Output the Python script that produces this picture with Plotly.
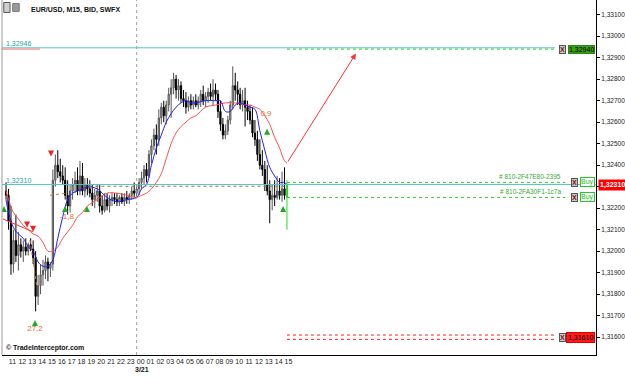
import plotly.graph_objects as go

# ---------------- data (time = hours since 3/20 00:00; 3/21 00:00 = 24) ----------------
BAR_START = 10.75
BAR_STEP = 0.25

OPEN = [1.3228, 1.3226, 1.3214, 1.3194, 1.3205, 1.3198, 1.3203, 1.3200, 1.3202, 1.3200,
        1.3203, 1.3201, 1.3197, 1.3179, 1.3184, 1.3189, 1.3191, 1.3195, 1.3192, 1.3194,
        1.3233, 1.3240, 1.3237, 1.3235, 1.3233, 1.3226, 1.3221, 1.3228, 1.3231, 1.3233,
        1.3228, 1.3235, 1.3228, 1.3231, 1.3229, 1.3227, 1.3224, 1.3226, 1.3228, 1.3221,
        1.3219, 1.3224, 1.3221, 1.3224, 1.3225, 1.3224, 1.3223, 1.3225, 1.3223, 1.3225,
        1.3224, 1.3226, 1.3228, 1.3227, 1.3229, 1.3232, 1.3234, 1.3238, 1.3235, 1.3245,
        1.3249, 1.3254, 1.3252, 1.3262, 1.3267, 1.3263, 1.3268, 1.3273, 1.3276, 1.3280,
        1.3275, 1.3277, 1.3271, 1.3270, 1.3267, 1.3270, 1.3268, 1.3270, 1.3268, 1.3270,
        1.3273, 1.3270, 1.3272, 1.3274, 1.3272, 1.3275, 1.3273, 1.3265, 1.3259, 1.3254,
        1.3256, 1.3261, 1.3268, 1.3277, 1.3275, 1.3273, 1.3268, 1.3270, 1.3267, 1.3265,
        1.3261, 1.3255, 1.3252, 1.3245, 1.3240, 1.3238, 1.3231, 1.3228, 1.3224, 1.3226,
        1.3225, 1.3228, 1.3226, 1.3229]
HIGH = [1.3232, 1.3229, 1.3221, 1.3210, 1.3217, 1.3209, 1.3206, 1.3205, 1.3206, 1.3204,
        1.3206, 1.3205, 1.3200, 1.3189, 1.3194, 1.3196, 1.3198, 1.3197, 1.3195, 1.3238,
        1.3245, 1.3247, 1.3243, 1.3240, 1.3239, 1.3233, 1.3231, 1.3234, 1.3237, 1.3239,
        1.3242, 1.3241, 1.3234, 1.3234, 1.3233, 1.3231, 1.3229, 1.3231, 1.3231, 1.3226,
        1.3227, 1.3227, 1.3226, 1.3227, 1.3227, 1.3227, 1.3226, 1.3227, 1.3227, 1.3228,
        1.3227, 1.3230, 1.3232, 1.3231, 1.3234, 1.3237, 1.3240, 1.3241, 1.3247, 1.3252,
        1.3257, 1.3259, 1.3266, 1.3269, 1.3270, 1.3270, 1.3276, 1.3280, 1.3283, 1.3282,
        1.3280, 1.3279, 1.3275, 1.3274, 1.3272, 1.3273, 1.3272, 1.3273, 1.3272, 1.3275,
        1.3277, 1.3274, 1.3276, 1.3278, 1.3280, 1.3278, 1.3275, 1.3270, 1.3262, 1.3259,
        1.3263, 1.3270, 1.3286, 1.3283, 1.3279, 1.3276, 1.3275, 1.3276, 1.3270, 1.3268,
        1.3267, 1.3261, 1.3256, 1.3252, 1.3247, 1.3242, 1.3240, 1.3233, 1.3231, 1.3233,
        1.3235, 1.3234, 1.3237, 1.3239]
LOW = [1.3224, 1.3210, 1.3189, 1.3190, 1.3195, 1.3191, 1.3197, 1.3195, 1.3198, 1.3198,
       1.3200, 1.3194, 1.3172, 1.3175, 1.3180, 1.3184, 1.3187, 1.3186, 1.3188, 1.3191,
       1.3230, 1.3234, 1.3232, 1.3231, 1.3224, 1.3217, 1.3218, 1.3224, 1.3227, 1.3226,
       1.3226, 1.3226, 1.3225, 1.3226, 1.3225, 1.3221, 1.3220, 1.3223, 1.3218, 1.3217,
       1.3218, 1.3219, 1.3218, 1.3221, 1.3222, 1.3221, 1.3221, 1.3222, 1.3221, 1.3222,
       1.3222, 1.3224, 1.3225, 1.3225, 1.3226, 1.3229, 1.3231, 1.3232, 1.3234, 1.3241,
       1.3247, 1.3245, 1.3249, 1.3259, 1.3260, 1.3259, 1.3265, 1.3262, 1.3273, 1.3271,
       1.3270, 1.3269, 1.3267, 1.3264, 1.3265, 1.3266, 1.3266, 1.3267, 1.3266, 1.3267,
       1.3268, 1.3267, 1.3269, 1.3270, 1.3268, 1.3270, 1.3262, 1.3256, 1.3252, 1.3252,
       1.3254, 1.3259, 1.3266, 1.3270, 1.3268, 1.3266, 1.3265, 1.3258, 1.3261, 1.3259,
       1.3253, 1.3249, 1.3242, 1.3238, 1.3235, 1.3228, 1.3226, 1.3213, 1.3219, 1.3221,
       1.3224, 1.3224, 1.3223, 1.3224]
CLOSE = [1.3226, 1.3214, 1.3194, 1.3205, 1.3198, 1.3203, 1.3200, 1.3202, 1.3200, 1.3203,
         1.3201, 1.3197, 1.3179, 1.3184, 1.3189, 1.3191, 1.3195, 1.3192, 1.3194, 1.3233,
         1.3240, 1.3237, 1.3235, 1.3233, 1.3226, 1.3221, 1.3228, 1.3231, 1.3233, 1.3228,
         1.3235, 1.3228, 1.3231, 1.3229, 1.3227, 1.3224, 1.3226, 1.3228, 1.3221, 1.3219,
         1.3224, 1.3221, 1.3224, 1.3225, 1.3224, 1.3223, 1.3225, 1.3223, 1.3225, 1.3224,
         1.3226, 1.3228, 1.3227, 1.3229, 1.3232, 1.3234, 1.3238, 1.3235, 1.3245, 1.3249,
         1.3254, 1.3252, 1.3262, 1.3267, 1.3263, 1.3268, 1.3273, 1.3276, 1.3280, 1.3275,
         1.3277, 1.3271, 1.3270, 1.3267, 1.3270, 1.3268, 1.3270, 1.3268, 1.3270, 1.3273,
         1.3270, 1.3272, 1.3274, 1.3272, 1.3275, 1.3273, 1.3265, 1.3259, 1.3254, 1.3256,
         1.3261, 1.3268, 1.3277, 1.3275, 1.3273, 1.3268, 1.3270, 1.3267, 1.3265, 1.3261,
         1.3255, 1.3252, 1.3245, 1.3240, 1.3238, 1.3231, 1.3228, 1.3224, 1.3226, 1.3225,
         1.3228, 1.3226, 1.3229, 1.3226]

LAST_TIME = 39.25
LAST_OPEN, LAST_HIGH, LAST_LOW, LAST_CLOSE = 1.3225, 1.3233, 1.3210, 1.3231

FAST_T = [10.75, 11, 11.5, 12, 12.5, 13, 13.5, 14, 14.5, 15, 15.5, 16, 16.5, 17, 17.5, 18, 18.5,
          19, 20, 21, 22, 23, 24, 24.5, 25, 25.5, 26, 26.5, 27, 27.5, 28, 28.5, 29, 29.5, 30,
          31, 32, 32.5, 33, 33.5, 34, 34.5, 35, 35.5, 36, 36.5, 37, 37.5, 38, 38.5, 39, 39.25]
FAST_MA = [1.3224, 1.3218, 1.3211, 1.3208, 1.3206, 1.3202, 1.3200, 1.3195, 1.3193, 1.3193,
           1.3196, 1.3206, 1.3216, 1.3224, 1.3227, 1.3228, 1.3229, 1.3230, 1.3229, 1.3225,
           1.3223, 1.3224, 1.3225, 1.3229, 1.3231, 1.3240, 1.3248, 1.3254, 1.3260, 1.3264,
           1.3267, 1.3269, 1.3270, 1.3269, 1.3269, 1.3270, 1.3270, 1.3270, 1.3265, 1.3265,
           1.3268, 1.3269, 1.3268, 1.3267, 1.3266, 1.3256, 1.3247, 1.3239, 1.3235, 1.3232,
           1.3232, 1.3231]
SLOW_T = [10.75, 11, 11.5, 12, 12.5, 13, 13.5, 14, 14.5, 15, 15.5, 16, 16.5, 17, 17.5, 18, 18.5,
          19, 20, 21, 22, 23, 24, 24.5, 25, 25.5, 26, 26.5, 27, 27.5, 28, 28.5, 29, 29.5, 30,
          31, 32, 33, 34, 35, 35.5, 36, 36.5, 37, 37.5, 38, 38.5, 39, 39.25]
SLOW_MA = [1.3228, 1.3224, 1.3218, 1.3215, 1.3212, 1.3210, 1.3208, 1.3207, 1.3204, 1.3200,
           1.3200, 1.3202, 1.3206, 1.3209, 1.3212, 1.3216, 1.3218, 1.3221, 1.3224, 1.3227,
           1.3227, 1.3226, 1.3225, 1.3226, 1.3227, 1.3229, 1.3232, 1.3236, 1.3243, 1.3250,
           1.3255, 1.3258, 1.3260, 1.3262, 1.3263, 1.3267, 1.3268, 1.3269, 1.3269, 1.3268,
           1.3268, 1.3267, 1.3266, 1.3263, 1.3259, 1.3253, 1.3248, 1.3242, 1.3241]

FORECAST_T = [39.25, 46.25]
FORECAST_P = [1.3241, 1.3292]

TARGET_LEVEL = 1.32946
TARGET_ORDER = 1.32940
ENTRY_LEVEL = 1.32310
ORDER_LEVELS = [1.3232, 1.3225]
ORDER_IDS = ["# 810-2F47E80-2395", "# 810-2FA30F1-1c7a"]
STOP_LEVELS = [1.31610, 1.31590]

BUY_T = [10.54, 16.73, 18.96, 13.69, 37.23, 38.86]
BUY_P = [1.3221, 1.3221, 1.3221, 1.3168, 1.3257, 1.3221]
SELL_T = [12.88, 13.49, 15.31]
SELL_P = [1.3211, 1.3209, 1.3244]
PNL_T = [13.69, 16.93, 37.12]
PNL_P = [1.3164, 1.3216, 1.3264]
PNL_TEXT = ["27,2", "-1,8", "0,9"]

HOUR_TICKS = list(range(11, 40))
HOUR_LABELS = ["%02d" % (h % 24) for h in HOUR_TICKS]
PRICE_TICKS = [1.316, 1.317, 1.318, 1.319, 1.320, 1.321, 1.322, 1.323, 1.324, 1.325,
               1.326, 1.327, 1.328, 1.329, 1.330, 1.331]
# 1,32300 is hidden under the current-price box
PRICE_LABELS = ["" if abs(p - 1.323) < 1e-9 else ("%.5f" % p).replace(".", ",") for p in PRICE_TICKS]

X_RANGE = [10.34, 70.60]
Y_RANGE = [1.315172, 1.331684]

FONT = "Liberation Sans"
TEAL = "#56c3c3"
GREEN = "#33cc33"
ORANGE = "#d9742a"

bar_t = [BAR_START + BAR_STEP * i for i in range(len(OPEN))]

fig = go.Figure()

fig.add_trace(go.Candlestick(
    x=bar_t, open=OPEN, high=HIGH, low=LOW, close=CLOSE,
    increasing=dict(line=dict(color="#555555", width=1), fillcolor="#b8b8b8"),
    decreasing=dict(line=dict(color="#000000", width=1), fillcolor="#000000"),
    whiskerwidth=0, showlegend=False, hoverinfo="skip"))
fig.add_trace(go.Candlestick(
    x=[LAST_TIME], open=[LAST_OPEN], high=[LAST_HIGH], low=[LAST_LOW], close=[LAST_CLOSE],
    increasing=dict(line=dict(color="#22dd22", width=1), fillcolor="#11aa11"),
    decreasing=dict(line=dict(color="#22dd22", width=1), fillcolor="#11aa11"),
    whiskerwidth=0, showlegend=False, hoverinfo="skip"))

fig.add_trace(go.Scatter(x=SLOW_T, y=SLOW_MA, mode="lines", line=dict(color="#ff5050", width=1, shape="spline"),
                         showlegend=False, hoverinfo="skip"))
fig.add_trace(go.Scatter(x=FAST_T, y=FAST_MA, mode="lines", line=dict(color="#2020ff", width=1, shape="spline"),
                         showlegend=False, hoverinfo="skip"))

# trade connection lines
fig.add_trace(go.Scatter(x=[10.44, 13.49], y=[1.3215, 1.3209], mode="lines",
                         line=dict(color="#ff3030", width=1), showlegend=False, hoverinfo="skip"))
fig.add_trace(go.Scatter(x=[13.18, 13.89], y=[1.3205, 1.3183], mode="lines",
                         line=dict(color=ORANGE, width=1, dash="dot"), showlegend=False, hoverinfo="skip"))
fig.add_trace(go.Scatter(x=[15.21, 16.9], y=[1.3226, 1.3227], mode="lines",
                         line=dict(color=ORANGE, width=1, dash="dot"), showlegend=False, hoverinfo="skip"))

fig.add_trace(go.Scatter(x=BUY_T, y=BUY_P, mode="markers",
                         marker=dict(symbol="arrow-up", size=6, color="#22aa22"),
                         showlegend=False, hoverinfo="skip"))
fig.add_trace(go.Scatter(x=SELL_T, y=SELL_P, mode="markers",
                         marker=dict(symbol="arrow-down", size=6, color="#ee2020"),
                         showlegend=False, hoverinfo="skip"))
fig.add_trace(go.Scatter(x=PNL_T, y=PNL_P, mode="text", text=PNL_TEXT,
                         textfont=dict(family=FONT, size=8, color=ORANGE),
                         showlegend=False, hoverinfo="skip"))

shapes = []
# frame pieces
shapes.append(dict(type="line", xref="paper", yref="paper", x0=0, x1=0, y0=0, y1=1,
                   line=dict(color="#9a9a9a", width=1)))
shapes.append(dict(type="line", xref="x", yref="paper", x0=24, x1=24, y0=0, y1=1,
                   line=dict(color="#a0a0a0", width=1, dash="dot")))
# levels
shapes.append(dict(type="line", xref="paper", yref="y", x0=0, x1=0.931, y0=TARGET_LEVEL, y1=TARGET_LEVEL,
                   line=dict(color=TEAL, width=1)))
shapes.append(dict(type="line", xref="x", yref="y", x0=LAST_TIME, x1=66.44, y0=TARGET_ORDER, y1=TARGET_ORDER,
                   line=dict(color=GREEN, width=1, dash="dot")))
shapes.append(dict(type="line", xref="paper", yref="y", x0=0, x1=0.064, y0=TARGET_ORDER, y1=TARGET_ORDER,
                   line=dict(color="#ff7070", width=1)))
shapes.append(dict(type="line", xref="paper", yref="y", x0=0, x1=1, y0=ENTRY_LEVEL, y1=ENTRY_LEVEL,
                   line=dict(color=TEAL, width=1)))
shapes.append(dict(type="line", xref="x", yref="y", x0=18.6, x1=LAST_TIME, y0=1.32302, y1=1.32302,
                   line=dict(color="#b07040", width=1, dash="dot")))
for lv in ORDER_LEVELS:
    shapes.append(dict(type="line", xref="x", yref="y", x0=LAST_TIME, x1=67.5, y0=lv, y1=lv,
                       line=dict(color=GREEN, width=1, dash="dot")))
for lv in STOP_LEVELS:
    shapes.append(dict(type="line", xref="x", yref="y", x0=LAST_TIME, x1=66.44, y0=lv, y1=lv,
                       line=dict(color="#ff2020", width=1, dash="dot")))
# title icons
shapes.append(dict(type="rect", xref="paper", yref="paper", x0=0.003, x1=0.0135, y0=0.965, y1=0.993,
                   line=dict(color="#555555", width=1), fillcolor="#d0d0d0"))
shapes.append(dict(type="rect", xref="paper", yref="paper", x0=0.018, x1=0.029, y0=0.968, y1=0.99,
                   line=dict(color="#777777", width=1), fillcolor="#9a9a9a"))

annotations = []
# forecast arrow
annotations.append(dict(x=FORECAST_T[1], y=FORECAST_P[1], ax=FORECAST_T[0], ay=FORECAST_P[0],
                        xref="x", yref="y", axref="x", ayref="y", text="", showarrow=True,
                        arrowhead=2, arrowsize=1.2, arrowwidth=1, arrowcolor="#ff3030"))
annotations.append(dict(x=0.046, y=0.972, xref="paper", yref="paper", xanchor="left", yanchor="middle",
                        text="<b>EUR/USD, M15, BID, SWFX</b>", showarrow=False,
                        font=dict(family=FONT, size=7, color="#111111")))
annotations.append(dict(x=0.004, y=0.019, xref="paper", yref="paper", xanchor="left", yanchor="middle",
                        text="<b>© TradeInterceptor.com</b>", showarrow=False,
                        font=dict(family=FONT, size=7, color="#111111")))
annotations.append(dict(x=24, y=-0.04, xref="x", yref="paper", xanchor="center", yanchor="middle",
                        xshift=5, text="<b>3/21</b>", showarrow=False,
                        font=dict(family=FONT, size=7, color="#111111")))
annotations.append(dict(x=0.003, y=TARGET_LEVEL, xref="paper", yref="y", xanchor="left", yanchor="bottom",
                        text=("%.5f" % TARGET_LEVEL).replace(".", ","), showarrow=False, yshift=-1,
                        font=dict(family=FONT, size=7, color="#2f9f9f")))
annotations.append(dict(x=0.003, y=ENTRY_LEVEL, xref="paper", yref="y", xanchor="left", yanchor="bottom",
                        text=("%.5f" % ENTRY_LEVEL).replace(".", ","), showarrow=False, yshift=-1,
                        font=dict(family=FONT, size=7, color="#2f9f9f")))
for lv, oid in zip(ORDER_LEVELS, ORDER_IDS):
    annotations.append(dict(x=0.944, y=lv, xref="paper", yref="y", xanchor="right", yanchor="bottom",
                            text=oid, showarrow=False, yshift=0,
                            font=dict(family=FONT, size=6.5, color="#33aa33")))
    annotations.append(dict(x=0.9695, y=lv, xref="paper", yref="y", xanchor="right", yanchor="middle",
                            text="<b>X</b>", showarrow=False, bgcolor="#c8c8c8", bordercolor="#555555",
                            borderwidth=1, borderpad=0, font=dict(family=FONT, size=7, color="#7a1010")))
    annotations.append(dict(x=0.9985, y=lv, xref="paper", yref="y", xanchor="right", yanchor="middle",
                            text="Buy", showarrow=False, bgcolor="#ffffff", bordercolor="#22cc22",
                            borderwidth=1, borderpad=0, font=dict(family=FONT, size=7, color="#22bb22")))
# target box
annotations.append(dict(x=0.9495, y=TARGET_ORDER, xref="paper", yref="y", xanchor="right", yanchor="middle",
                        text="<b>X</b>", showarrow=False, bgcolor="#c8c8c8", bordercolor="#555555",
                        borderwidth=1, borderpad=0, font=dict(family=FONT, size=7, color="#7a1010")))
annotations.append(dict(x=0.9985, y=TARGET_ORDER, xref="paper", yref="y", xanchor="right", yanchor="middle",
                        text=("%.5f" % TARGET_ORDER).replace(".", ","), showarrow=False,
                        bgcolor="#3c9c14", bordercolor="#2a8a10", borderwidth=1, borderpad=0,
                        font=dict(family=FONT, size=7, color="#000000")))
# stop box
annotations.append(dict(x=0.9495, y=sum(STOP_LEVELS) / 2, xref="paper", yref="y", xanchor="right",
                        yanchor="middle", text="<b>X</b>", showarrow=False, bgcolor="#c8c8c8",
                        bordercolor="#555555", borderwidth=1, borderpad=0,
                        font=dict(family=FONT, size=7, color="#7a1010")))
annotations.append(dict(x=0.9985, y=sum(STOP_LEVELS) / 2, xref="paper", yref="y", xanchor="right",
                        yanchor="middle",
                        text=("%.5f" % STOP_LEVELS[0]).replace(".", ","), showarrow=False,
                        bgcolor="#ff1a1a", bordercolor="#dd0000", borderwidth=1, borderpad=1,
                        font=dict(family=FONT, size=7, color="#000000")))
# current price box on the axis
annotations.append(dict(x=1.0035, y=LAST_CLOSE, xref="paper", yref="y", xanchor="left", yanchor="middle",
                        text="<b>" + ("%.5f" % ENTRY_LEVEL).replace(".", ",") + "</b>", showarrow=False,
                        bgcolor="#ff0000", borderpad=1, font=dict(family=FONT, size=7, color="#ffffff")))

fig.update_layout(
    width=625, height=378,
    margin=dict(l=2, r=29, t=0, b=23, pad=0),
    paper_bgcolor="white", plot_bgcolor="white",
    showlegend=False,
    shapes=shapes, annotations=annotations,
    xaxis=dict(range=X_RANGE, rangeslider=dict(visible=False), showgrid=False, zeroline=False,
               showline=True, linecolor="#000000", linewidth=1, ticks="",
               tickvals=HOUR_TICKS, ticktext=HOUR_LABELS, ticklabelshift=4, tickangle=0,
               tickfont=dict(family=FONT, size=7, color="#222222")),
    yaxis=dict(range=Y_RANGE, side="right", showgrid=False, zeroline=False,
               showline=True, linecolor="#000000", linewidth=1, ticks="outside", ticklen=3,
               tickcolor="#000000", tickvals=PRICE_TICKS, ticktext=PRICE_LABELS,
               tickfont=dict(family=FONT, size=6.5, color="#222222")),
)

fig.write_html("out.html")
